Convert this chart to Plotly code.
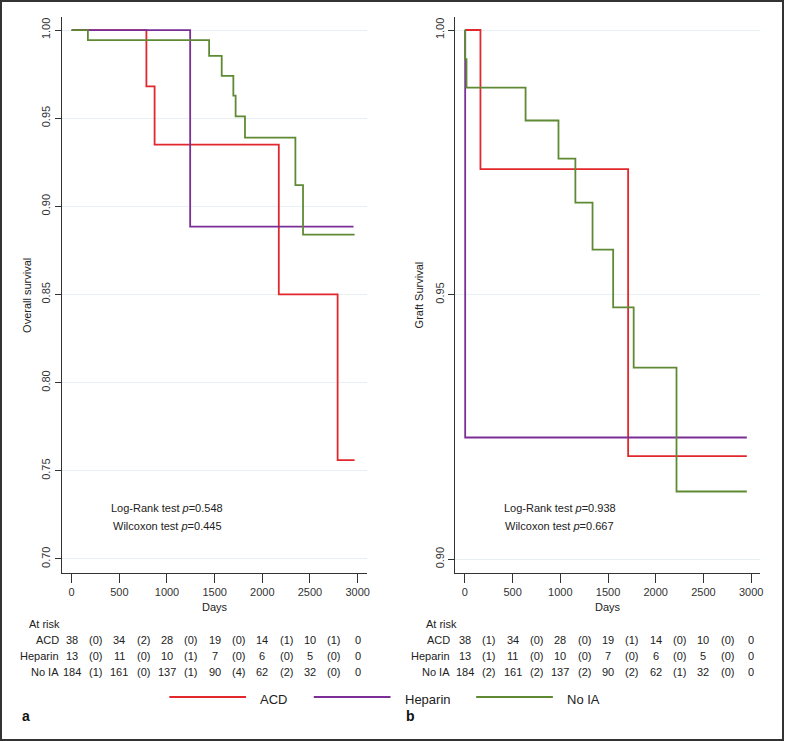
import plotly.graph_objects as go

W, H = 787, 741

# ---------------- data ----------------
groups = ["ACD", "Heparin", "No IA"]
colors = {"ACD": "#e2272d", "Heparin": "#7a2e96", "No IA": "#5e8a33"}

# Panel a: overall survival (Kaplan-Meier steps)
os_acd_t = [0, 784, 870, 2173, 2790, 2968]
os_acd_s = [1.0, 0.968, 0.935, 0.850, 0.756, 0.756]
os_hep_t = [0, 1243, 2957]
os_hep_s = [1.0, 0.8885, 0.8885]
os_noia_t = [0, 170, 1442, 1574, 1696, 1720, 1818, 2347, 2427, 2968]
os_noia_s = [1.0, 0.9943, 0.9853, 0.974, 0.9628, 0.951, 0.939, 0.912, 0.884, 0.884]

# Panel b: graft survival
gs_acd_t = [0, 163, 1711, 2955]
gs_acd_s = [1.0, 0.9737, 0.9195, 0.9195]
gs_hep_t = [0, 3, 2955]
gs_hep_s = [1.0, 0.923, 0.923]
gs_noia_t = [0, 3, 17, 636, 981, 1158, 1338, 1554, 1769, 2218, 2955]
gs_noia_s = [1.0, 0.9945, 0.9891, 0.9829, 0.9757, 0.9674, 0.9585, 0.9476, 0.9362, 0.9128, 0.9128]

# number at risk tables: values at 0,500,...,3000 and events in between
risk_times = [0, 500, 1000, 1500, 2000, 2500, 3000]
mid_times = [250, 750, 1250, 1750, 2250, 2750]
risk_a = {
    "ACD": [38, 34, 28, 19, 14, 10, 0],
    "Heparin": [13, 11, 10, 7, 6, 5, 0],
    "No IA": [184, 161, 137, 90, 62, 32, 0],
}
events_a = {
    "ACD": [0, 2, 0, 0, 1, 1],
    "Heparin": [0, 0, 1, 0, 0, 0],
    "No IA": [1, 0, 1, 4, 2, 0],
}
risk_b = {
    "ACD": [38, 34, 28, 19, 14, 10, 0],
    "Heparin": [13, 11, 10, 7, 6, 5, 0],
    "No IA": [184, 161, 137, 90, 62, 32, 0],
}
events_b = {
    "ACD": [1, 0, 0, 1, 0, 0],
    "Heparin": [1, 0, 0, 0, 0, 0],
    "No IA": [2, 2, 2, 2, 1, 0],
}

x_ticks = [0, 500, 1000, 1500, 2000, 2500, 3000]
y_ticks_a = [0.70, 0.75, 0.80, 0.85, 0.90, 0.95, 1.00]
y_ticks_b = [0.90, 0.95, 1.00]
pvals_a = ["Log-Rank test <i>p</i>=0.548", "Wilcoxon test <i>p</i>=0.445"]
pvals_b = ["Log-Rank test <i>p</i>=0.938", "Wilcoxon test <i>p</i>=0.667"]

# ---------------- layout helpers ----------------
def PX(px):
    return px / W

def PY(py):
    return 1 - py / H

FONT = "Liberation Sans, Arial, sans-serif"
NARROW = "Liberation Sans Narrow, Arial Narrow, Liberation Sans, Arial, sans-serif"
TXT = "#222222"

fig = go.Figure()

panel_a = [("ACD", os_acd_t, os_acd_s), ("Heparin", os_hep_t, os_hep_s), ("No IA", os_noia_t, os_noia_s)]
panel_b = [("ACD", gs_acd_t, gs_acd_s), ("Heparin", gs_hep_t, gs_hep_s), ("No IA", gs_noia_t, gs_noia_s)]

for name, t, s in panel_a:
    fig.add_trace(go.Scatter(x=t, y=s, mode="lines", line=dict(color=colors[name], width=1.8, shape="hv"),
                             name=name, showlegend=False, xaxis="x", yaxis="y"))
for name, t, s in panel_b:
    fig.add_trace(go.Scatter(x=t, y=s, mode="lines", line=dict(color=colors[name], width=1.8, shape="hv"),
                             name=name, showlegend=False, xaxis="x2", yaxis="y2"))

xdom_a = [PX(62), PX(368)]
xdom_b = [PX(457), PX(763)]
ydom = [PY(573), PY(17)]

axis_common = dict(showline=True, linecolor="#333333", linewidth=1.3, ticks="outside",
                   tickcolor="#333333", tickfont=dict(family=FONT, size=11, color="#333333"),
                   zeroline=False)

fig.update_layout(
    width=W, height=H,
    margin=dict(l=0, r=0, t=0, b=0),
    paper_bgcolor="white", plot_bgcolor="white",
    showlegend=False,
    xaxis=dict(domain=xdom_a, range=[-104, 3094], tickvals=x_ticks, tickformat="d",
               showgrid=False, ticklen=9, anchor="y", **axis_common),
    yaxis=dict(domain=ydom, range=[0.692, 1.0074], tickvals=y_ticks_a, tickformat=".2f",
               tickangle=-90, showgrid=True, gridcolor="#e6eff1", gridwidth=1, ticklen=6,
               anchor="x", **axis_common),
    xaxis2=dict(domain=xdom_b, range=[-101, 3094], tickvals=x_ticks, tickformat="d",
                showgrid=False, ticklen=9, anchor="y2", **axis_common),
    yaxis2=dict(domain=ydom, range=[0.8974, 1.00246], tickvals=y_ticks_b, tickformat=".2f",
                tickangle=-90, showgrid=True, gridcolor="#e6eff1", gridwidth=1, ticklen=6,
                anchor="x2", **axis_common),
)

ann = []

def add_text(x, y, text, xref="paper", size=11, family=FONT, xanchor="center", textangle=0, color=TXT):
    ann.append(dict(x=x, y=y, xref=xref, yref="paper", text=text, showarrow=False,
                    xanchor=xanchor, yanchor="middle", textangle=textangle,
                    font=dict(family=family, size=size, color=color)))

# axis titles
add_text(PX(27), PY(295), "Overall survival", textangle=-90)
add_text(PX(421), PY(295), "Graft Survival", textangle=-90)
add_text(1500, PY(607), "Days", xref="x")
add_text(1500, PY(607), "Days", xref="x2")

# p-values
for i, txt in enumerate(pvals_a):
    add_text(PX(168), PY(508 + 18 * i), txt, family=NARROW)
for i, txt in enumerate(pvals_b):
    add_text(PX(562), PY(508 + 18 * i), txt, family=NARROW)

# risk tables
row_y = {"ACD": 640, "Heparin": 656, "No IA": 672}
for xref, risk, events, label_x, atrisk_x in [("x", risk_a, events_a, 61, 27), ("x2", risk_b, events_b, 454, 426)]:
    add_text(PX(atrisk_x), PY(624), "At risk", family=NARROW, xanchor="left")
    for g in groups:
        yy = PY(row_y[g])
        add_text(PX(label_x), yy, g, family=NARROW, xanchor="right")
        for t, v in zip(risk_times, risk[g]):
            add_text(t, yy, str(v), xref=xref, family=NARROW)
        for t, v in zip(mid_times, events[g]):
            add_text(t, yy, "(%d)" % v, xref=xref, family=NARROW)

# custom legend
shapes = []
leg = [("ACD", 170, 247, 259), ("Heparin", 315, 392, 405), ("No IA", 478, 555, 567)]
for g, x0, x1, tx in leg:
    shapes.append(dict(type="line", xref="paper", yref="paper", x0=PX(x0), x1=PX(x1), y0=PY(697), y1=PY(697),
                       line=dict(color=colors[g], width=2)))
    add_text(PX(tx), PY(699), g, size=13, xanchor="left")

# panel letters
add_text(PX(26), PY(716), "<b>a</b>", size=14, color="#111111")
add_text(PX(412), PY(716), "<b>b</b>", size=14, color="#111111")

# outer frame
shapes.append(dict(type="rect", xref="paper", yref="paper", x0=PX(1), x1=PX(786), y0=PY(740), y1=PY(1),
                   line=dict(color="#333333", width=2)))

fig.update_layout(annotations=ann, shapes=shapes)

fig.write_html("out.html", config={"displayModeBar": False},
               post_script="document.body.style.margin='0';")
